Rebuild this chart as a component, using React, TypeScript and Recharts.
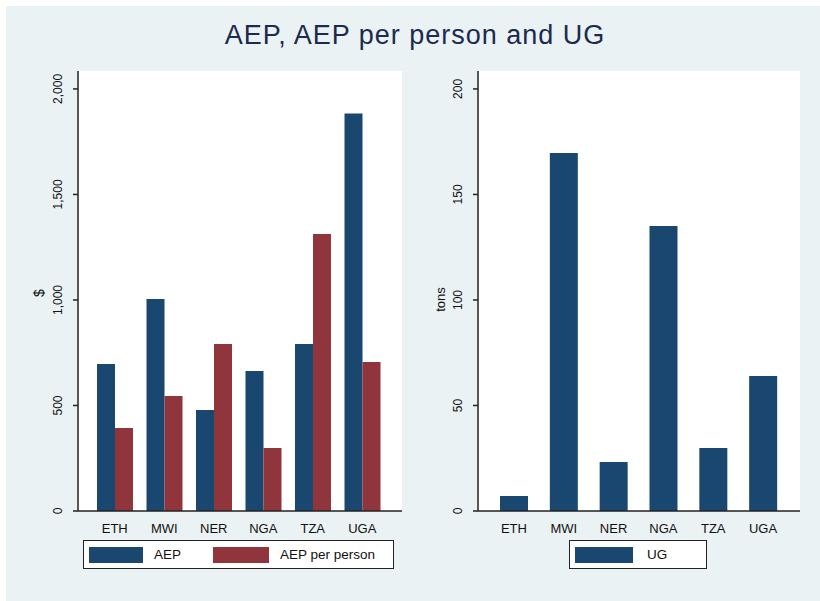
import React from 'react';
import { BarChart, Bar, XAxis, YAxis, CartesianGrid } from 'recharts';

const countries = ['ETH', 'MWI', 'NER', 'NGA', 'TZA', 'UGA'];
const aep = [697, 1005, 479, 663, 791, 1884];
const aepPerPerson = [393, 545, 791, 299, 1313, 706];
const ug = [7.1, 169.7, 23.2, 135, 29.9, 64];
const leftTicks = [0, 500, 1000, 1500, 2000];
const rightTicks = [0, 50, 100, 150, 200];

const NAVY = '#1a476f';
const MAROON = '#90353b';
const BG = '#eaf2f3';
const FONT = 'Arial, "Liberation Sans", sans-serif';

const leftData = countries.map((c, i) => ({ country: c, aep: aep[i], perPerson: aepPerPerson[i] }));
const rightData = countries.map((c, i) => ({ country: c, ug: ug[i] }));

const fmt = (v: number) => v.toLocaleString('en-US');

function YTick(props: any) {
  const { x, y, payload } = props;
  const bx = x - 11;
  return (
    <text x={bx} y={y} transform={`rotate(-90 ${bx} ${y})`} textAnchor="middle"
      fontSize={12} fontFamily={FONT} fill="#111">
      {fmt(payload.value)}
    </text>
  );
}

function XTick(props: any) {
  const { x, y, payload } = props;
  return (
    <text x={x} y={y + 20} textAnchor="middle" fontSize={13} fontFamily={FONT} fill="#111">
      {payload.value}
    </text>
  );
}

function Swatch({ color, w }: { color: string; w: number }) {
  return <div style={{ width: w, height: 16, background: color, flex: 'none' }} />;
}

export default function App() {
  return (
    <div style={{ position: 'absolute', left: 0, top: 0, width: 820, height: 601, background: '#fff', fontFamily: FONT }}>
      <div style={{ position: 'absolute', left: 6, top: 6, width: 814, height: 595, background: BG }} />
      <div style={{ position: 'absolute', left: 0, top: 20, width: 830, textAlign: 'center', fontSize: 27,
        letterSpacing: 1, color: '#1c2a50' }}>
        AEP, AEP per person and UG
      </div>

      {/* left panel */}
      <div style={{ position: 'absolute', left: 0, top: 0 }}>
        <BarChart width={410} height={560} data={leftData} barGap={0}
          margin={{ top: 71, right: 8, left: 0, bottom: 0 }}>
          <rect x={78} y={71} width={324} height={440} fill="#fff" />
          <CartesianGrid vertical={false} stroke={BG} strokeWidth={1.5} />
          <XAxis dataKey="country" height={49} tick={<XTick />} tickLine={false} tickSize={0}
            padding={{ left: 12, right: 15 }} axisLine={{ stroke: '#222', strokeWidth: 1.5 }} />
          <YAxis width={78} domain={[0, 2085]} ticks={leftTicks} tick={<YTick />} tickSize={5}
            tickMargin={0} interval={0} axisLine={{ stroke: '#222', strokeWidth: 1.5 }}
            tickLine={{ stroke: '#222', strokeWidth: 1.5 }} />
          <Bar dataKey="aep" fill={NAVY} barSize={18} isAnimationActive={false} />
          <Bar dataKey="perPerson" fill={MAROON} barSize={18} isAnimationActive={false} />
        </BarChart>
      </div>
      <div style={{ position: 'absolute', left: 35, top: 285, fontSize: 14, color: '#111',
        transform: 'rotate(-90deg)' }}>$</div>

      {/* right panel */}
      <div style={{ position: 'absolute', left: 400, top: 0 }}>
        <BarChart width={420} height={560} data={rightData}
          margin={{ top: 71, right: 20, left: 0, bottom: 0 }}>
          <rect x={78} y={71} width={322} height={440} fill="#fff" />
          <CartesianGrid vertical={false} stroke={BG} strokeWidth={1.5} />
          <XAxis dataKey="country" height={49} tick={<XTick />} tickLine={false} tickSize={0}
            padding={{ left: 11, right: 12 }} axisLine={{ stroke: '#222', strokeWidth: 1.5 }} />
          <YAxis width={78} domain={[0, 208.5]} ticks={rightTicks} tick={<YTick />} tickSize={5}
            tickMargin={0} interval={0} axisLine={{ stroke: '#222', strokeWidth: 1.5 }}
            tickLine={{ stroke: '#222', strokeWidth: 1.5 }} />
          <Bar dataKey="ug" fill={NAVY} barSize={28} isAnimationActive={false} />
        </BarChart>
      </div>
      <div style={{ position: 'absolute', left: 428, top: 292, fontSize: 13, color: '#111',
        transform: 'rotate(-90deg)', transformOrigin: 'center' }}>tons</div>

      {/* legends */}
      <div style={{ position: 'absolute', left: 83, top: 540, width: 309, height: 27, background: '#fff',
        border: '1.5px solid #222', display: 'flex', alignItems: 'center', fontSize: 13.5, color: '#111' }}>
        <div style={{ marginLeft: 5 }}><Swatch color={NAVY} w={54} /></div>
        <span style={{ marginLeft: 11, width: 59 }}>AEP</span>
        <Swatch color={MAROON} w={56} />
        <span style={{ marginLeft: 11 }}>AEP per person</span>
      </div>
      <div style={{ position: 'absolute', left: 569, top: 540, width: 136, height: 27, background: '#fff',
        border: '1.5px solid #222', display: 'flex', alignItems: 'center', fontSize: 13.5, color: '#111' }}>
        <div style={{ marginLeft: 5 }}><Swatch color={NAVY} w={58} /></div>
        <span style={{ marginLeft: 14 }}>UG</span>
      </div>
    </div>
  );
}
